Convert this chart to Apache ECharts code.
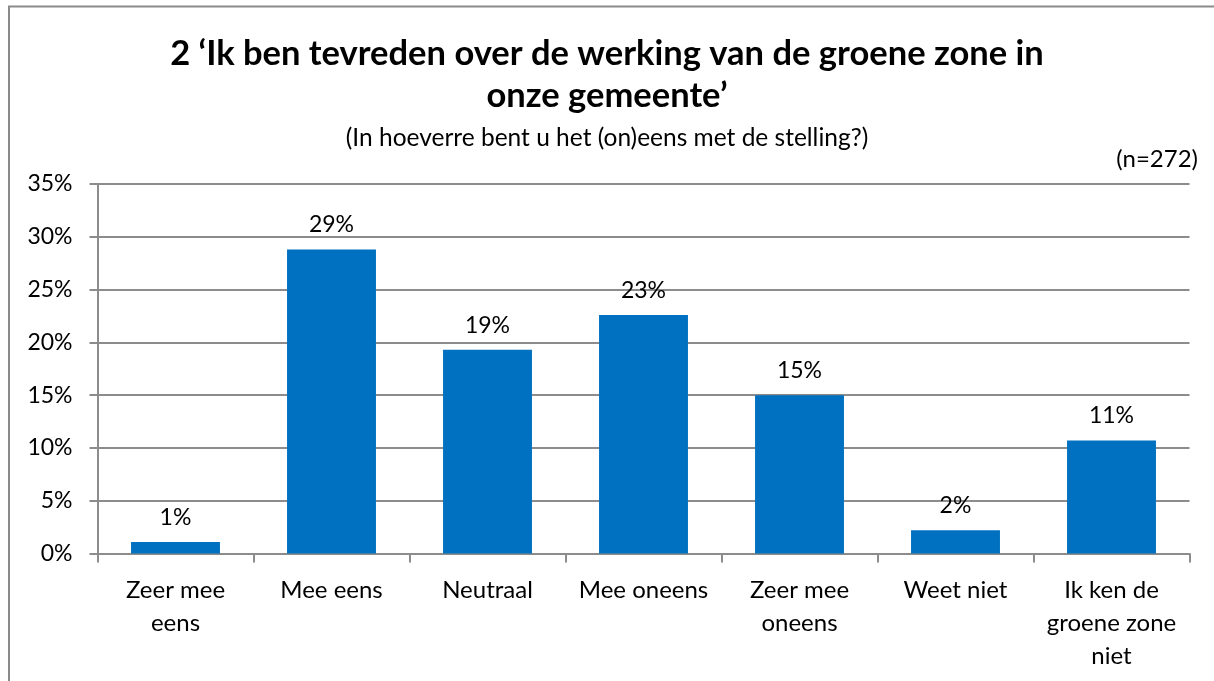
<!DOCTYPE html>
<html>
<head>
<meta charset="utf-8">
<script src="https://cdn.jsdelivr.net/npm/echarts@6/dist/echarts.min.js"></script>
<style>
html,body{margin:0;padding:0;background:#fff;}
#chart{width:1214px;height:681px;}
</style>
</head>
<body>
<div id="chart"></div>
<script>
const categories = ["Zeer mee\neens", "Mee eens", "Neutraal", "Mee oneens", "Zeer mee\noneens", "Weet niet", "Ik ken de\ngroene zone\nniet"];
const values = [1.1, 28.8, 19.3, 22.6, 15.0, 2.2, 10.7];
const yTicks = { min: 0, max: 35, interval: 5 };
const titleText = "2 \u2018Ik ben tevreden over de werking van de groene zone in\nonze gemeente\u2019";
const subtitleText = "(In hoeverre bent u het (on)eens met de stelling?)";
const nText = "(n=272)";

const FONT = "Lato, 'Liberation Sans', sans-serif";
const chart = echarts.init(document.getElementById('chart'));
chart.setOption({
  backgroundColor: '#fff',
  animation: false,
  title: [
    { text: titleText, left: 'center', top: 28,
      textStyle: { fontFamily: FONT, fontSize: 34.5, fontWeight: 'bold', color: '#000', lineHeight: 42 } },
    { text: subtitleText, left: 'center', top: 121,
      textStyle: { fontFamily: FONT, fontSize: 24.5, fontWeight: 'normal', color: '#000' } },
    { text: nText, right: 11, top: 142,
      textStyle: { fontFamily: FONT, fontSize: 24, fontWeight: 'normal', color: '#000' } }
  ],
  graphic: [
    { type: 'polyline', shape: { points: [[9, 700], [9, 6.5], [1220, 6.5]] },
      style: { stroke: '#8a8a8a', lineWidth: 2, fill: null }, silent: true }
  ],
  grid: { left: 97.5, right: 24.5, top: 184, bottom: 127.5 },
  xAxis: {
    type: 'category',
    data: categories,
    axisLine: { show: true, lineStyle: { color: '#8c8c8c', width: 2 } },
    axisTick: { show: true, alignWithLabel: false, length: 9, lineStyle: { color: '#8c8c8c', width: 2 } },
    axisLabel: { interval: 0, margin: 20, fontFamily: FONT, fontSize: 24, lineHeight: 33, color: '#000' }
  },
  yAxis: {
    type: 'value',
    min: yTicks.min, max: yTicks.max, interval: yTicks.interval,
    axisLine: { show: true, lineStyle: { color: '#8c8c8c', width: 2 } },
    axisTick: { show: true, length: 8, lineStyle: { color: '#8c8c8c', width: 2 } },
    splitLine: { show: true, lineStyle: { color: '#8c8c8c', width: 2 } },
    axisLabel: { margin: 25, fontFamily: FONT, fontSize: 23, color: '#000', formatter: '{value}%' }
  },
  series: [{
    type: 'bar',
    data: values,
    barWidth: '57%',
    itemStyle: { color: '#0070C0' },
    label: {
      show: true, position: 'top', distance: 13,
      fontFamily: FONT, fontSize: 23, color: '#000',
      formatter: p => Math.round(p.value) + '%'
    }
  }]
});
</script>
</body>
</html>
